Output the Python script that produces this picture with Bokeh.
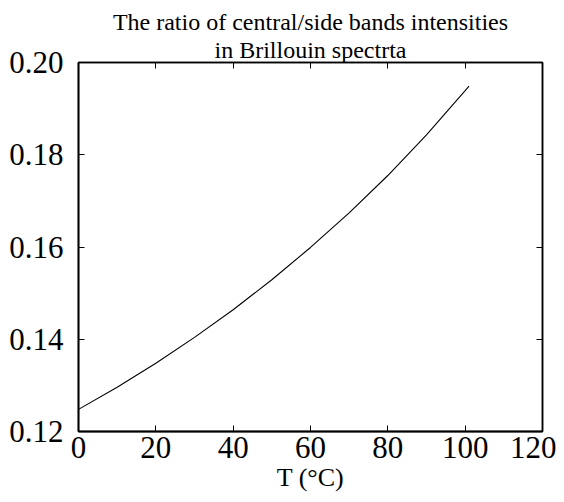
from bokeh.plotting import figure
from bokeh.models import LinearAxis, Range1d, FixedTicker, CustomJSTickFormatter, Title
from bokeh.embed import file_html
from bokeh.resources import INLINE

# Data
temperature = [0, 10, 20, 30, 40, 50, 60, 70, 80, 90, 100, 101]
ratio = [0.1248, 0.1296, 0.1348, 0.1404, 0.1464, 0.1529, 0.1599, 0.1674,
         0.1755, 0.1843, 0.1939, 0.1949]
x_ticks = [0, 20, 40, 60, 80, 100, 120]
y_ticks = [0.12, 0.14, 0.16, 0.18, 0.20]
title_line1 = "The ratio of central/side bands intensities"
title_line2 = "in Brillouin spectrta"
x_label = "T (°C)"

FONT = "Liberation Serif"

p = figure(width=556, height=494, output_backend="svg", toolbar_location=None,
           title=None,
           x_range=Range1d(0, 120), y_range=Range1d(0.12, 0.20),
           min_border_left=78, min_border_right=14, min_border_top=62, min_border_bottom=63)

p.grid.visible = False
p.outline_line_color = "black"
p.outline_line_width = 1.5

p.line(temperature, ratio, line_color="black", line_width=1.1)

# main axes
xa = p.xaxis[0]
ya = p.yaxis[0]
xa.ticker = FixedTicker(ticks=x_ticks)
ya.ticker = FixedTicker(ticks=y_ticks)
ya.formatter = CustomJSTickFormatter(code="return tick.toFixed(2);")
for ax in (xa, ya):
    ax.axis_line_color = "black"
    ax.axis_line_width = 1.8
    ax.major_tick_in = 6
    ax.major_tick_out = 0
    ax.minor_tick_line_color = None
    ax.major_tick_line_color = "black"
    ax.major_label_text_font = FONT
    ax.major_label_text_font_size = "31px"
    ax.major_label_text_color = "black"
ya.major_label_standoff = 15
xa.major_label_standoff = 5
xa.axis_label = x_label
xa.axis_label_text_font = FONT
xa.axis_label_text_font_size = "26px"
xa.axis_label_text_font_style = "normal"
xa.axis_label_text_color = "black"
xa.axis_label_standoff = 2

# mirror ticks on top and right
blank = CustomJSTickFormatter(code="return '';")
top = LinearAxis(ticker=FixedTicker(ticks=x_ticks), formatter=blank)
right = LinearAxis(ticker=FixedTicker(ticks=y_ticks), formatter=blank)
for ax in (top, right):
    ax.axis_line_color = "black"
    ax.axis_line_width = 1.5
    ax.major_tick_in = 6
    ax.major_tick_out = 0
    ax.minor_tick_line_color = None
    ax.major_label_standoff = 0
    ax.major_label_text_font_size = "1px"
p.add_layout(top, "above")
p.add_layout(right, "right")

# two-line title, centred
for txt in (title_line2, title_line1):
    t = Title(text=txt, align="center", text_font=FONT, text_font_size="24px",
              text_font_style="normal", text_color="black", standoff=0, offset=0)
    p.add_layout(t, "above")

open("out.html", "w").write(file_html(p, INLINE))
